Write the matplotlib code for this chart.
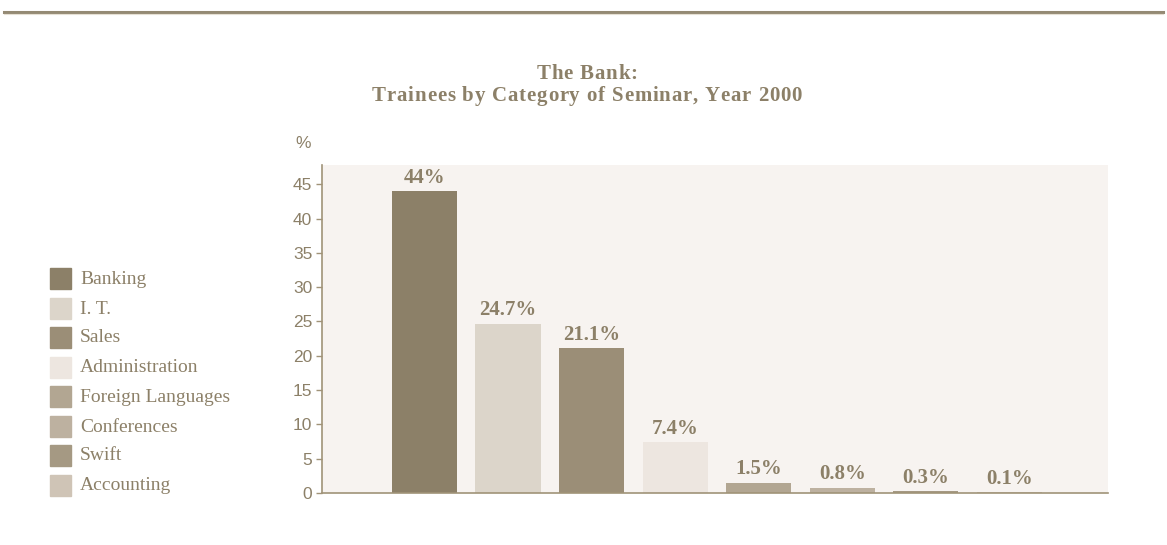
import matplotlib.pyplot as plt
from matplotlib.patches import Rectangle
from matplotlib.lines import Line2D
from matplotlib.font_manager import FontProperties, findfont, get_font

categories = ["Banking", "I. T.", "Sales", "Administration", "Foreign Languages",
              "Conferences", "Swift", "Accounting"]
values = [44, 24.7, 21.1, 7.4, 1.5, 0.8, 0.3, 0.1]
value_labels = ["44%", "24.7%", "21.1%", "7.4%", "1.5%", "0.8%", "0.3%", "0.1%"]
colors = ["#8c8068", "#dcd5ca", "#9b8e77", "#ede6e0", "#b2a692", "#bdb1a0",
          "#a59983", "#cfc4b6"]
yticks = [0, 5, 10, 15, 20, 25, 30, 35, 40, 45]
title_lines = ["The Bank:", "Trainees by Category of Seminar, Year 2000"]

text_col = "#8c8068"
axis_col = "#a09378"
W, H = 1167, 545
DPI = 100


def tracked_text(fig, xc, yc, s, extra, fp, color):
    # place characters one by one so the title gets some letter spacing
    font = get_font(findfont(fp))
    font.set_size(fp.get_size_in_points(), DPI)
    adv = []
    for ch in s:
        g = font.load_char(ord(ch))
        adv.append(g.linearHoriAdvance / 65536)
    total = sum(adv) + extra * (len(s) - 1)
    xp = xc - total / 2
    for ch, a in zip(s, adv):
        if ch != " ":
            fig.text(xp / W, 1 - yc / H, ch, ha="left", va="baseline",
                     fontproperties=fp, color=color)
        xp += a + extra


fig = plt.figure(figsize=(W / DPI, H / DPI), dpi=DPI)
fig.patch.set_facecolor("white")

# top rule
fig.add_artist(Line2D([4 / W, 1163 / W], [1 - 12 / H] * 2, color="#948a74", lw=2.2))
fig.add_artist(Line2D([4 / W, 1163 / W], [1 - 14 / H] * 2, color="#e6e0d4", lw=0.8))

title_fp = FontProperties(family="Liberation Serif", weight="bold", size=15)
tracked_text(fig, 587, 79, title_lines[0], 0.8, title_fp, text_col)
tracked_text(fig, 587, 101, title_lines[1], 0.8, title_fp, text_col)

ax = fig.add_axes([322 / W, 1 - 493 / H, (1108 - 322) / W, (493 - 165) / H])
ax.set_facecolor("#f7f3f0")
x = list(range(len(values)))
ax.bar(x, values, width=0.78, color=colors)
for xi, v, lab in zip(x, values, value_labels):
    ax.text(xi, v + 0.5, lab, ha="center", va="bottom", family="Liberation Serif",
            weight="bold", size=15, color=text_col)

ax.set_xlim(-1.226, 7 + 1.18)
ax.set_ylim(0, 47.8)
ax.set_xticks([])
ax.set_yticks(yticks)
ax.tick_params(axis="y", direction="out", length=4, width=1, color=axis_col,
               labelcolor=text_col, labelsize=12.5, pad=3)
for lab in ax.get_yticklabels():
    lab.set_family("Liberation Sans")
for s in ["top", "right"]:
    ax.spines[s].set_visible(False)
for s in ["left", "bottom"]:
    ax.spines[s].set_color(axis_col)
    ax.spines[s].set_linewidth(1.2)

fig.text(303 / W, 1 - 143 / H, "%", ha="center", va="center",
         family="Liberation Sans", size=12.5, color=text_col)

# legend
row_y = [279, 309, 338, 368, 397, 427, 456, 486]
for cat, col, ry in zip(categories, colors, row_y):
    fig.add_artist(Rectangle((50 / W, 1 - (ry + 10) / H), 21 / W, 21 / H,
                             color=col, transform=fig.transFigure))
    fig.text(80 / W, 1 - ry / H, cat, ha="left", va="center",
             family="Liberation Serif", size=14, color=text_col)

fig.savefig("out.png", dpi=DPI, facecolor="white")
